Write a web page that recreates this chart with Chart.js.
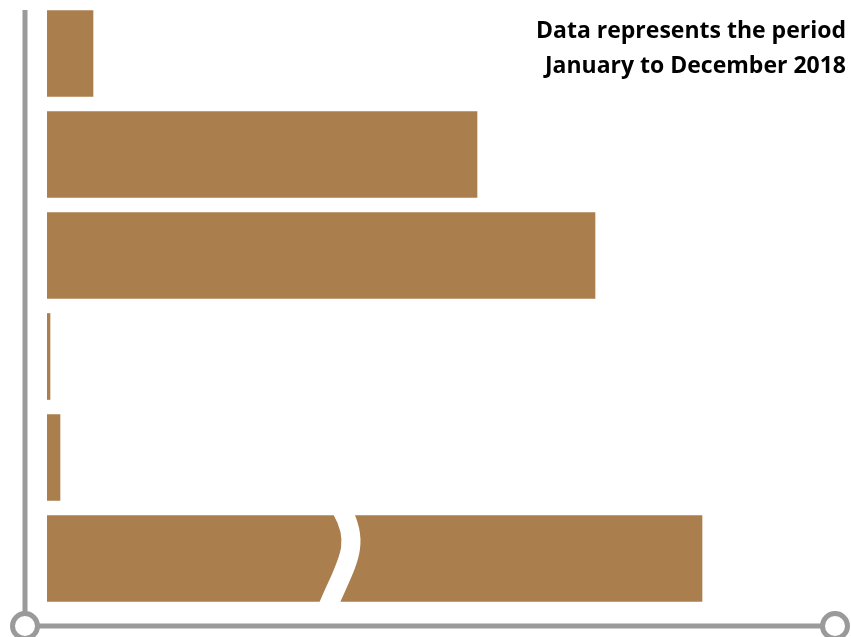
<!DOCTYPE html>
<html>
<head>
<meta charset="utf-8">
<script src="https://cdn.jsdelivr.net/npm/chart.js@4.4.0/dist/chart.umd.min.js"></script>
<style>
  html, body { margin: 0; padding: 0; background: #fff; }
  #wrap { width: 851px; height: 637px; position: relative; }
</style>
</head>
<body>
<div id="wrap"><canvas id="barChart"></canvas></div>
<script>
// Data (bar lengths, arbitrary units)
const categories = ['1', '2', '3', '4', '5', '6'];
const values = [46, 430, 548, 3, 13, 655];
const noteLines = ['Data represents the period', 'January to December 2018'];
const breakIndex = 5;     // bar with a scale break
const breakAt = 296;      // value where the break is drawn

const barColor = '#AB7E4E';
const axisColor = '#9a9a9a';

// axis lines with open circles at the ends, offset from the chart area
const axisPlugin = {
    id: 'axisPlugin',
    afterDraw(chart) {
        const c = chart.ctx;
        const area = chart.chartArea;
        const ax = area.left - 22;
        const ay = area.bottom + 17;
        const r = 12.5;
        c.save();
        c.strokeStyle = axisColor;
        c.lineWidth = 5;
        c.beginPath();
        c.moveTo(ax, area.top + 7);
        c.lineTo(ax, ay - r);
        c.moveTo(ax + r, ay);
        c.lineTo(area.right - 12 - r, ay);
        c.stroke();
        c.beginPath();
        c.arc(ax, ay, r, 0, Math.PI * 2);
        c.stroke();
        c.beginPath();
        c.arc(area.right - 12, ay, r, 0, Math.PI * 2);
        c.stroke();
        c.restore();
    }
};

// white wavy break through the long bar
const breakPlugin = {
    id: 'breakPlugin',
    afterDatasetsDraw(chart) {
        const bar = chart.getDatasetMeta(0).data[breakIndex];
        const x = chart.scales.x.getPixelForValue(breakAt);
        const top = bar.y - bar.height / 2;
        const bot = bar.y + bar.height / 2;
        const c = chart.ctx;
        c.save();
        c.strokeStyle = '#ffffff';
        c.lineWidth = 19;
        c.beginPath();
        c.moveTo(x - 1, top - 5);
        c.bezierCurveTo(x + 19, top + 30, x + 2, top + 50, x - 15, bot + 5);
        c.stroke();
        c.restore();
    }
};

// note text at top right
const notePlugin = {
    id: 'notePlugin',
    afterDraw(chart) {
        const c = chart.ctx;
        c.save();
        c.fillStyle = '#000';
        c.font = 'bold 23px "Open Sans", sans-serif';
        c.textAlign = 'right';
        c.textBaseline = 'alphabetic';
        noteLines.forEach((t, i) => c.fillText(t, chart.width - 5, 38 + i * 35));
        c.restore();
    }
};

const ctx = document.getElementById('barChart').getContext('2d');
const chart = new Chart(ctx, {
    type: 'bar',
    data: {
        labels: categories,
        datasets: [{
            data: values,
            backgroundColor: barColor,
            borderWidth: 0,
            barThickness: 86
        }]
    },
    options: {
        indexAxis: 'y',
        responsive: true,
        maintainAspectRatio: false,
        animation: false,
        layout: {
            padding: { left: 47, right: 4, top: 3, bottom: 28 }
        },
        scales: {
            x: {
                min: 0,
                max: 800,
                display: false
            },
            y: {
                display: false
            }
        },
        plugins: {
            legend: { display: false },
            tooltip: { enabled: false }
        }
    },
    plugins: [breakPlugin, axisPlugin, notePlugin]
});
</script>
</body>
</html>
